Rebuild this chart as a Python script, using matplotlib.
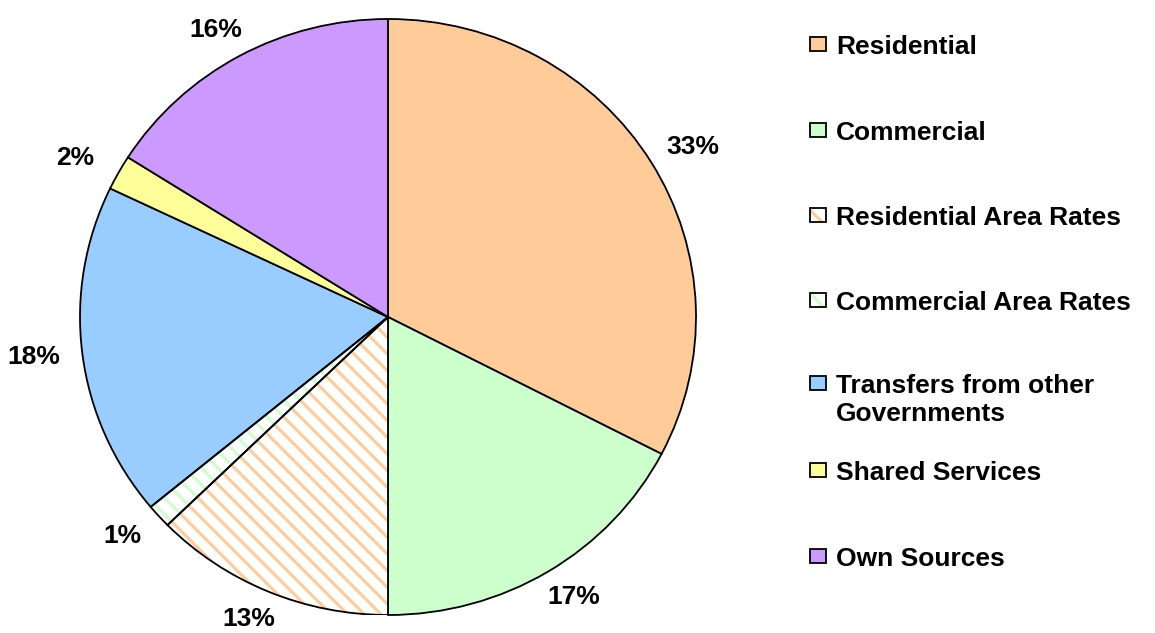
import matplotlib
matplotlib.use("Agg")
import matplotlib.pyplot as plt
import numpy as np
from matplotlib.patches import Wedge, Rectangle

categories = ["Residential", "Commercial", "Residential Area Rates", "Commercial Area Rates",
              "Transfers from other\nGovernments", "Shared Services", "Own Sources"]
values = [32.6, 17.4, 12.7, 1.3, 18.1, 1.9, 16.0]
colors = ["#FFCC99", "#CCFFCC", "#FFCC99", "#CCFFCC", "#99CCFF", "#FFFF99", "#CC99FF"]
hatched = [False, False, True, True, False, False, False]

plt.rcParams['font.family'] = ['Liberation Sans', 'DejaVu Sans']
plt.rcParams['hatch.linewidth'] = 2.2

W, H = 1155, 633
FS = 19
fig = plt.figure(figsize=(W / 100, H / 100), dpi=100)
cx, cy, rx, ry = 388, 317, 308, 298
ax = fig.add_axes([(cx - rx) / W, (H - cy - ry) / H, 2 * rx / W, 2 * ry / H])

wedges, texts, autotexts = ax.pie(
    values, colors=colors, startangle=90, counterclock=False,
    autopct=lambda p: f"{p:.0f}%", pctdistance=1.15,
    wedgeprops=dict(edgecolor="black", linewidth=1.3),
    textprops=dict(fontsize=FS, fontweight="bold", color="black"))

# Excel-like label placement just outside the rim
for w, t in zip(wedges, autotexts):
    th = np.deg2rad((w.theta1 + w.theta2) / 2)
    t.set_position((1.16 * np.cos(th), 1.10 * np.sin(th)))

for w, c, h in zip(wedges, colors, hatched):
    if h:
        w.set_facecolor("white")
        w.set_hatch("\\\\")
        w.set_edgecolor(c)
        w.set_linewidth(0)
        outline = Wedge(w.center, w.r, w.theta1, w.theta2, fill=False,
                        edgecolor="black", linewidth=1.3)
        ax.add_patch(outline)

ax.set_aspect('auto')
ax.set_xlim(-1, 1)
ax.set_ylim(-1, 1)
ax.axis('off')

# legend (manual, Excel-like layout)
leg_y = [44, 130, 215, 300, 383, 470, 556]
sqw, sqh = 16, 14
mx = 818
for i, (lab, c, h) in enumerate(zip(categories, colors, hatched)):
    y = leg_y[i]
    x0 = (mx - sqw / 2) / W
    y0 = (H - y - sqh / 2) / H
    r = Rectangle((x0, y0), sqw / W, sqh / H,
                  transform=fig.transFigure, facecolor="white" if h else c,
                  edgecolor=c if h else "black", linewidth=0 if h else 1.3,
                  hatch="\\\\" if h else None)
    fig.add_artist(r)
    if h:
        fig.add_artist(Rectangle((x0, y0), sqw / W, sqh / H,
                                 transform=fig.transFigure, fill=False,
                                 edgecolor="black", linewidth=1.3))
    fig.text(836 / W, (H - y + 9) / H, lab, fontsize=FS, fontweight="bold",
             ha="left", va="top", linespacing=1.2)

fig.savefig("out.png", dpi=100)
